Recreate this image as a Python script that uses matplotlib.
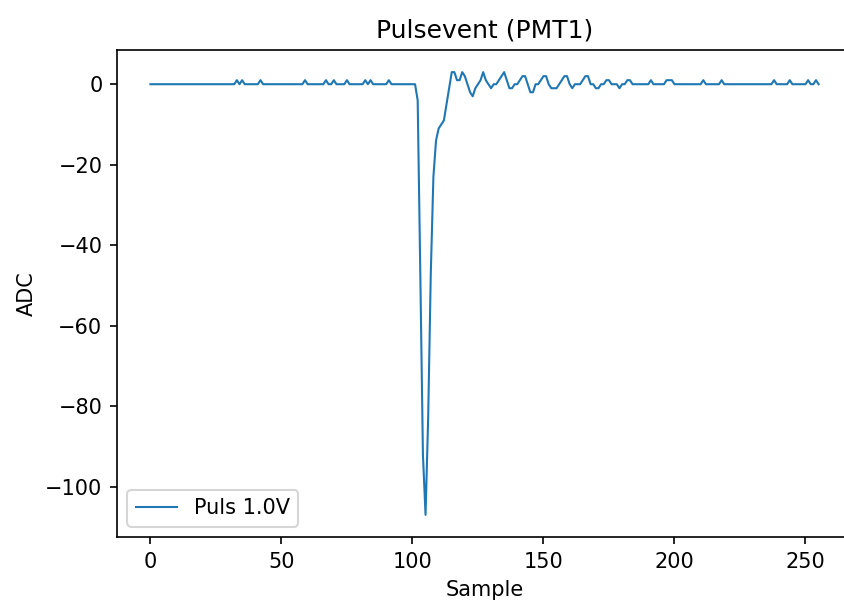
import numpy as np
import matplotlib.pyplot as plt

# ADC samples of one pulse event (PMT1)
baseline_bumps = [33, 35, 42, 59, 67, 70, 75, 82, 84, 91]
pulse = [-4, -47, -92, -107, -83, -47, -23, -14, -11, -10, -9, -5, -1]  # samples 102..114
ringing = [3, 3, 1, 1, 3, 2, 0, -2, -3, -1, 0, 1, 3, 1, 0, -1, 0, 0, 1, 2,
           3, 1, -1, -1, 0, 0, 1, 2, 2, 0, -2, -2, 0, 0, 1, 2, 2, 0, -1, -1,
           -1, 0, 1, 2, 2, 0, -1, 0, 0, 0, 1, 2, 2, 0, 0, -1, -1, 0, 0, 1,
           1, 0, 0, 0, -1, 0, 0, 1, 1]  # samples 115..183
tail_bumps = [191, 197, 198, 199, 211, 218, 238, 244, 251, 254]

adc = np.zeros(256)
adc[baseline_bumps] = 1
adc[102:102 + len(pulse)] = pulse
adc[115:115 + len(ringing)] = ringing
adc[tail_bumps] = 1
samples = np.arange(len(adc))

fig = plt.figure(figsize=(844 / 150, 604 / 150), dpi=150)
# axes run past the right edge, the original image was cropped there
ax = fig.add_axes([117 / 844, 67 / 604, 735 / 844, 487 / 604])

ax.plot(samples, adc, linewidth=1, label="Puls 1.0V")
ax.set_title("Pulsevent (PMT1)")
ax.set_xlabel("Sample")
ax.set_ylabel("ADC")
ax.legend(loc="lower left")

fig.savefig("out.png", dpi=150)
